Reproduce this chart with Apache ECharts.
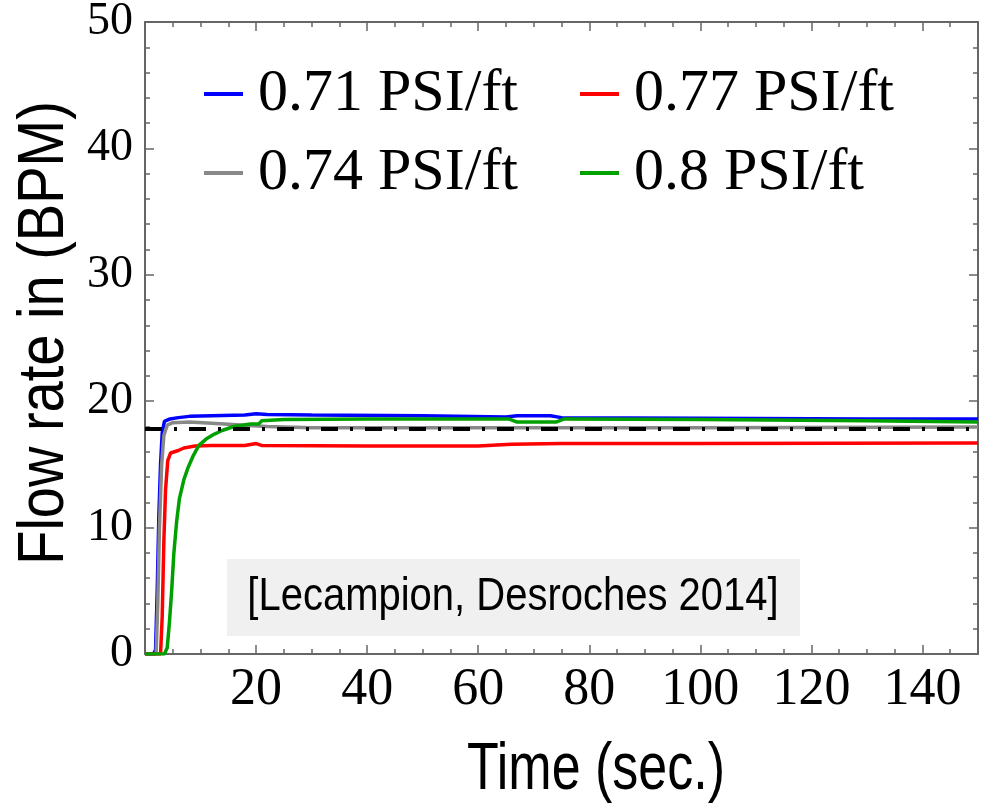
<!DOCTYPE html>
<html>
<head>
<meta charset="utf-8">
<script src="https://cdn.jsdelivr.net/npm/echarts@6/dist/echarts.min.js"></script>
<style>html,body{margin:0;padding:0;background:#fff}#c{width:992px;height:805px}</style>
</head>
<body>
<div id="c"></div>
<script>
// ---- data ----
const seriesNames = ['0.71 PSI/ft', '0.74 PSI/ft', '0.77 PSI/ft', '0.8 PSI/ft'];
const xTicks = [20, 40, 60, 80, 100, 120, 140];
const yTicks = [0, 10, 20, 30, 40, 50];

const blueT = [0, 1.5, 1.9, 2.2, 2.5, 2.8, 3.1, 3.5, 4.5, 6, 8, 12, 18, 20, 22, 30, 50, 65, 67, 73, 75, 100, 130, 150];
const blueV = [0, 0, 0.3, 5, 11, 15, 17.5, 18.4, 18.6, 18.7, 18.8, 18.85, 18.9, 19.0, 18.95, 18.9, 18.85, 18.75, 18.85, 18.85, 18.7, 18.65, 18.6, 18.6];

const grayT = [0, 2.0, 2.3, 2.6, 3.0, 3.4, 4.0, 5, 8, 12, 18, 22, 30, 60, 100, 150];
const grayV = [0, 0, 4, 10, 15, 17.3, 18.1, 18.3, 18.35, 18.25, 18.1, 18.0, 17.9, 17.9, 17.9, 17.95];

const redT = [0, 2.8, 3.1, 3.4, 3.7, 4.1, 4.6, 6, 7, 9, 12, 18, 20, 21, 40, 60, 66, 75, 100, 150];
const redV = [0, 0, 3, 9, 13, 15.3, 15.9, 16.1, 16.3, 16.45, 16.5, 16.5, 16.65, 16.5, 16.45, 16.45, 16.6, 16.65, 16.65, 16.7];

const greenT = [0, 3.5, 4.0, 4.4, 4.8, 5.2, 5.7, 6.2, 7, 7.8, 8.7, 9.7, 11, 12.5, 14, 16, 19, 20.5, 21, 25, 40, 60, 65.5, 67, 74, 75.5, 100, 130, 150];
const greenV = [0, 0, 0.5, 2.5, 5, 8, 10.5, 12.3, 13.8, 14.8, 15.7, 16.5, 17.0, 17.4, 17.7, 18.0, 18.2, 18.2, 18.45, 18.55, 18.6, 18.6, 18.6, 18.35, 18.35, 18.6, 18.55, 18.45, 18.35];

const refLevel = 17.8;
const xRange = [0, 150];
const yRange = [0, 50];
const noteText = '[Lecampion, Desroches 2014]';
const xTitle = 'Time (sec.)';
const yTitle = 'Flow rate in (BPM)';

// ---- build ----
const zip = (t, v) => t.map((x, i) => [x, v[i]]);
const colors = ['#0000ff', '#888888', '#ff0000', '#00a000'];
const datasets = [zip(blueT, blueV), zip(grayT, grayV), zip(redT, redV), zip(greenT, greenV)];

const serif = 'Liberation Serif';
const sans = 'Liberation Sans';
const frame = '#666666';

function xAxisCfg(pos, showLabel) {
  return {
    type: 'value', position: pos, min: xRange[0], max: xRange[1], interval: 20,
    axisLine: { show: true, onZero: false, lineStyle: { color: frame, width: 2 } },
    axisTick: { show: true, inside: true, length: 9, lineStyle: { color: frame, width: 1.5 } },
    minorTick: { show: true, splitNumber: 4, length: 5, lineStyle: { color: frame, width: 1.5 } },
    splitLine: { show: false },
    axisLabel: {
      show: showLabel, margin: 10, fontFamily: serif, fontSize: 52, color: '#000',
      formatter: v => (xTicks.indexOf(v) >= 0 ? String(v) : '')
    }
  };
}
function yAxisCfg(pos, showLabel) {
  return {
    type: 'value', position: pos, min: yRange[0], max: yRange[1], interval: 10,
    axisLine: { show: true, onZero: false, lineStyle: { color: frame, width: 2 } },
    axisTick: { show: true, inside: true, length: 9, lineStyle: { color: frame, width: 1.5 } },
    minorTick: { show: true, splitNumber: 5, length: 5, lineStyle: { color: frame, width: 1.5 } },
    splitLine: { show: false },
    axisLabel: {
      show: showLabel, margin: 12, fontFamily: serif, fontSize: 46, color: '#000',
      formatter: v => (yTicks.indexOf(v) >= 0 ? String(v) : '')
    }
  };
}

const series = seriesNames.map((n, i) => ({
  name: n, type: 'line', data: datasets[i], showSymbol: false, symbol: 'none',
  lineStyle: { color: colors[i], width: 3.5 }, itemStyle: { color: colors[i] },
  animation: false, z: 2 + i
}));
series.push({
  name: 'ref', type: 'line', data: [[xRange[0], refLevel], [xRange[1], refLevel]],
  showSymbol: false, symbol: 'none', animation: false, z: 10,
  lineStyle: { color: '#000', width: 4, type: [17, 12, 3, 12] }
});

const legendPos = [
  { name: seriesNames[0], left: 199, top: 59 },
  { name: seriesNames[1], left: 199, top: 138 },
  { name: seriesNames[2], left: 575, top: 59 },
  { name: seriesNames[3], left: 575, top: 138 }
];
const legends = legendPos.map(p => ({
  data: [p.name], left: p.left, top: p.top, padding: 5, icon: 'rect',
  itemWidth: 39, itemHeight: 4, itemStyle: { borderWidth: 0 },
  selectedMode: false,
  textStyle: { fontFamily: serif, fontSize: 60, color: '#000', padding: [0, 0, 22, 10] }
}));

const chart = echarts.init(document.getElementById('c'), null, { renderer: 'canvas' });
chart.setOption({
  backgroundColor: '#fff',
  animation: false,
  grid: { left: 145, right: 14, top: 22, bottom: 151, containLabel: false, outerBoundsMode: 'none' },
  xAxis: [xAxisCfg('bottom', true), xAxisCfg('top', false)],
  yAxis: [yAxisCfg('left', true), yAxisCfg('right', false)],
  legend: legends,
  series: series,
  graphic: [
    { type: 'rect', z: 1, shape: { x: 227, y: 559, width: 573, height: 77 }, style: { fill: '#f0f0f0' } },
    { type: 'text', z: 20, x: 513, y: 597, scaleY: 1.15,
      style: { text: noteText, fontFamily: sans, fontSize: 40, fill: '#000', align: 'center', verticalAlign: 'middle', textAlign: 'center', textVerticalAlign: 'middle' } },
    { type: 'text', z: 20, x: 596, y: 770, scaleY: 1.29,
      style: { text: xTitle, fontFamily: sans, fontSize: 52, fill: '#000', align: 'center', verticalAlign: 'middle', textAlign: 'center', textVerticalAlign: 'middle' } },
    { type: 'text', z: 20, x: 45, y: 333, rotation: Math.PI / 2, scaleY: 1.15,
      style: { text: yTitle, fontFamily: sans, fontSize: 56, fill: '#000', align: 'center', verticalAlign: 'middle', textAlign: 'center', textVerticalAlign: 'middle' } }
  ]
});
</script>
</body>
</html>
